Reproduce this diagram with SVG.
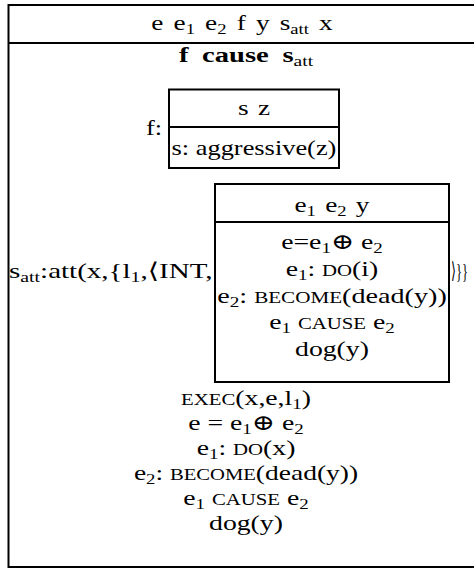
<svg xmlns="http://www.w3.org/2000/svg" width="474" height="572" viewBox="0 0 474 572">
<style>
.box{fill:#fff;stroke:#000;stroke-width:2}
.ln{stroke:#000;stroke-width:2}
text{font-family:"Liberation Serif","DejaVu Serif",serif;font-size:22px;fill:#000}
.c{text-anchor:middle}
.b{font-weight:bold}
.sub{font-size:15px}
.sc{font-size:16.5px}
</style>
<rect width="474" height="572" fill="#fff"/>
<g id="outer">
<rect class="box" x="8.5" y="5" width="490" height="562"/>
<line class="ln" x1="8.5" y1="43" x2="500" y2="43"/>
<text class="c" x="242" y="30" word-spacing="2.7" transform="translate(242 0) scale(1.24 1) translate(-242 0)">e e<tspan class="sub" dy="4">1</tspan><tspan dy="-4"> e</tspan><tspan class="sub" dy="4">2</tspan><tspan dy="-4"> f y s</tspan><tspan class="sub" dy="4">att</tspan><tspan dy="-4"> x</tspan></text>
<text class="c b" x="246" y="62" word-spacing="5" transform="translate(246 0) scale(1.3 1) translate(-246 0)">f cause s<tspan class="sub" dy="4" font-weight="normal">att</tspan></text>
</g>
<g id="f-box">
<text x="146" y="135" transform="translate(146 0) scale(1.2 1) translate(-146 0)">f:</text>
<rect class="box" x="169" y="89.5" width="170" height="78.5"/>
<line class="ln" x1="169" y1="127" x2="339" y2="127"/>
<text class="c" x="254" y="115" word-spacing="2" transform="translate(254 0) scale(1.24 1) translate(-254 0)">s z</text>
<text class="c" x="254" y="155" transform="translate(254 0) scale(1.2 1) translate(-254 0)">s: aggressive(z)</text>
</g>
<g id="satt">
<text x="9" y="278" transform="translate(9 0) scale(1.32 1) translate(-9 0)">s<tspan class="sub" dy="4">att</tspan><tspan dy="-4">:att(x,{l</tspan><tspan class="sub" dy="4">1</tspan><tspan dy="-4">,⟨INT,</tspan></text>
<text x="451" y="278" textLength="17" lengthAdjust="spacingAndGlyphs">⟩}}</text>
</g>
<g id="k-box">
<rect class="box" x="215" y="184" width="234" height="198"/>
<line class="ln" x1="215" y1="222" x2="449" y2="222"/>
<text class="c" x="332" y="212" word-spacing="2" transform="translate(332 0) scale(1.24 1) translate(-332 0)">e<tspan class="sub" dy="4">1</tspan><tspan dy="-4"> e</tspan><tspan class="sub" dy="4">2</tspan><tspan dy="-4"> y</tspan></text>
<text class="c" x="332" y="249" transform="translate(332 0) scale(1.26 1) translate(-332 0)">e=e<tspan class="sub" dy="4">1</tspan><tspan dy="-4">⊕ e</tspan><tspan class="sub" dy="4">2</tspan></text>
<text class="c" x="332" y="276" transform="translate(332 0) scale(1.26 1) translate(-332 0)">e<tspan class="sub" dy="4">1</tspan><tspan dy="-4">: </tspan><tspan class="sc">DO</tspan>(i)</text>
<text class="c" x="332" y="303" transform="translate(332 0) scale(1.28 1) translate(-332 0)">e<tspan class="sub" dy="4">2</tspan><tspan dy="-4">: </tspan><tspan class="sc">BECOME</tspan>(dead(y))</text>
<text class="c" x="332" y="329" transform="translate(332 0) scale(1.26 1) translate(-332 0)">e<tspan class="sub" dy="4">1</tspan><tspan dy="-4"> </tspan><tspan class="sc">CAUSE</tspan> e<tspan class="sub" dy="4">2</tspan></text>
<text class="c" x="332" y="356" transform="translate(332 0) scale(1.26 1) translate(-332 0)">dog(y)</text>
</g>
<g id="conditions">
<text class="c" x="246" y="405" transform="translate(246 0) scale(1.26 1) translate(-246 0)"><tspan class="sc">EXEC</tspan>(x,e,l<tspan class="sub" dy="4">1</tspan><tspan dy="-4">)</tspan></text>
<text class="c" x="246" y="430" transform="translate(246 0) scale(1.26 1) translate(-246 0)">e = e<tspan class="sub" dy="4">1</tspan><tspan dy="-4">⊕ e</tspan><tspan class="sub" dy="4">2</tspan></text>
<text class="c" x="246" y="455" transform="translate(246 0) scale(1.26 1) translate(-246 0)">e<tspan class="sub" dy="4">1</tspan><tspan dy="-4">: </tspan><tspan class="sc">DO</tspan>(x)</text>
<text class="c" x="246" y="480" transform="translate(246 0) scale(1.25 1) translate(-246 0)">e<tspan class="sub" dy="4">2</tspan><tspan dy="-4">: </tspan><tspan class="sc">BECOME</tspan>(dead(y))</text>
<text class="c" x="246" y="505" transform="translate(246 0) scale(1.26 1) translate(-246 0)">e<tspan class="sub" dy="4">1</tspan><tspan dy="-4"> </tspan><tspan class="sc">CAUSE</tspan> e<tspan class="sub" dy="4">2</tspan></text>
<text class="c" x="246" y="530" transform="translate(246 0) scale(1.26 1) translate(-246 0)">dog(y)</text>
</g>
<g id="connectors"></g>
</svg>
